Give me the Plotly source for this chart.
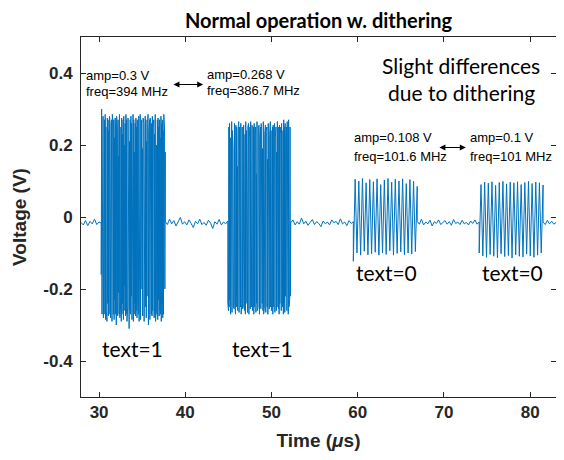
import numpy as np
import plotly.graph_objects as go

# ---------------- data ----------------
# segment boundaries in microseconds: baseline / burst alternating
seg_bounds = [27.9, 30.25, 37.67, 44.93, 52.23, 59.49, 66.9, 74.09, 81.5, 83.0]

# baseline noise (V)
base0 = [-0.015, -0.022, -0.010, -0.024, -0.012, -0.019, -0.006, -0.021, -0.014, -0.017]
base1 = [-0.012, -0.021, -0.006, -0.019, -0.010, -0.025, -0.014, -0.001, -0.020, -0.013,
         -0.022, -0.008, -0.018, -0.029, -0.012, -0.019, -0.006, -0.021, -0.015, -0.023,
         -0.009, -0.017, -0.032, -0.013, -0.020, -0.007, -0.022, -0.014, -0.019, -0.011]
base2 = [-0.016, -0.008, -0.022, -0.013, -0.020, -0.003, -0.019, -0.012, -0.023, -0.015,
         -0.007, -0.021, -0.013, -0.018, -0.027, -0.011, -0.019, -0.014, -0.022, -0.008,
         -0.016, -0.012, -0.021, -0.005, -0.019, -0.014, -0.024, -0.010, -0.018, -0.013]
base3 = [-0.012, -0.020, -0.006, -0.022, -0.014, -0.019, -0.009, -0.025, -0.013, -0.018,
         -0.008, -0.021, -0.015, -0.010, -0.020, -0.013, -0.023, -0.007, -0.018, -0.014,
         -0.021, -0.009, -0.019, -0.015, -0.022, -0.011, -0.018, -0.008, -0.020, -0.014]
base4 = [-0.014, -0.021, -0.009, -0.019, -0.012, -0.020, -0.015]

# 394 MHz burst (text=1)
b1_peaks = [0.30, 0.26, 0.28, 0.23, 0.27, 0.285, 0.25, 0.21, 0.275, 0.27,
            0.24, 0.28, 0.26, 0.19, 0.27, 0.285, 0.25, 0.27, 0.22, 0.275,
            0.26, 0.28, 0.24, 0.27, 0.17, 0.285, 0.26, 0.25, 0.275, 0.23,
            0.27, 0.28, 0.20, 0.26, 0.285, 0.27, 0.24, 0.275, 0.25, 0.21,
            0.27, 0.28, 0.26, 0.23, 0.285, 0.27, 0.18, 0.26, 0.275, 0.25,
            0.27, 0.22, 0.28, 0.26, 0.285, 0.24, 0.27, 0.19, 0.275, 0.26,
            0.25, 0.28, 0.27, 0.21, 0.26, 0.285, 0.24, 0.27, 0.275, 0.16,
            0.26, 0.28, 0.25, 0.27, 0.23, 0.285, 0.26, 0.20, 0.27, 0.275,
            0.25, 0.27, 0.22, 0.28, 0.26, 0.27, 0.24, 0.285, 0.25, 0.18]
b1_troughs = [-0.16, -0.27, -0.25, -0.28, -0.22, -0.27, -0.285, -0.26, -0.29, -0.24,
              -0.275, -0.27, -0.20, -0.28, -0.26, -0.29, -0.25, -0.27, -0.285, -0.23,
              -0.27, -0.30, -0.26, -0.275, -0.21, -0.27, -0.28, -0.25, -0.29, -0.27,
              -0.24, -0.285, -0.26, -0.19, -0.275, -0.27, -0.29, -0.25, -0.28, -0.31,
              -0.26, -0.27, -0.22, -0.285, -0.26, -0.29, -0.27, -0.24, -0.275, -0.26,
              -0.28, -0.23, -0.27, -0.29, -0.25, -0.285, -0.27, -0.20, -0.275, -0.26,
              -0.29, -0.27, -0.25, -0.28, -0.22, -0.27, -0.30, -0.26, -0.285, -0.24,
              -0.27, -0.275, -0.26, -0.21, -0.28, -0.27, -0.29, -0.25, -0.27, -0.285,
              -0.23, -0.275, -0.26, -0.27, -0.29, -0.24, -0.28, -0.27, -0.26, -0.20]
# 386.7 MHz burst (text=1)
b2_peaks = [0.23, 0.25, 0.26, 0.22, 0.25, 0.265, 0.24, 0.19, 0.25, 0.26,
            0.23, 0.255, 0.25, 0.14, 0.24, 0.265, 0.25, 0.22, 0.26, 0.24,
            0.25, 0.20, 0.255, 0.25, 0.23, 0.265, 0.24, 0.17, 0.25, 0.26,
            0.22, 0.25, 0.265, 0.24, 0.255, 0.21, 0.25, 0.26, 0.23, 0.25,
            0.12, 0.265, 0.24, 0.25, 0.255, 0.22, 0.25, 0.26, 0.24, 0.19,
            0.265, 0.25, 0.23, 0.255, 0.24, 0.25, 0.16, 0.26, 0.25, 0.23,
            0.265, 0.24, 0.21, 0.25, 0.255, 0.24, 0.26, 0.22, 0.25, 0.18,
            0.265, 0.24, 0.25, 0.255, 0.23, 0.25, 0.26, 0.20, 0.24, 0.27,
            0.25, 0.26, 0.22, 0.25, 0.265, 0.24, 0.27, 0.23, 0.25, 0.20]
b2_troughs = [-0.24, -0.26, -0.23, -0.25, -0.27, -0.24, -0.265, -0.21, -0.25, -0.255,
              -0.24, -0.27, -0.25, -0.22, -0.26, -0.24, -0.265, -0.18, -0.25, -0.27,
              -0.24, -0.255, -0.25, -0.23, -0.26, -0.27, -0.24, -0.20, -0.265, -0.25,
              -0.27, -0.24, -0.255, -0.22, -0.25, -0.26, -0.24, -0.27, -0.25, -0.19,
              -0.265, -0.24, -0.26, -0.25, -0.23, -0.27, -0.25, -0.255, -0.21, -0.24,
              -0.26, -0.27, -0.25, -0.24, -0.265, -0.22, -0.25, -0.27, -0.24, -0.255,
              -0.17, -0.25, -0.26, -0.24, -0.27, -0.25, -0.23, -0.265, -0.24, -0.26,
              -0.25, -0.20, -0.255, -0.27, -0.24, -0.25, -0.26, -0.23, -0.25, -0.27,
              -0.24, -0.265, -0.22, -0.25, -0.26, -0.24, -0.27, -0.25, -0.23, -0.22]
# 101.6 MHz burst (text=0)
b3_peaks = [0.105, 0.100, 0.107, 0.095, 0.104, 0.098, 0.106, 0.090, 0.103, 0.107, 0.097, 0.105,
            0.100, 0.106, 0.093, 0.104, 0.099, 0.085]
b3_troughs = [-0.123, -0.100, -0.106, -0.095, -0.105, -0.102, -0.098, -0.106, -0.100, -0.104, -0.094,
              -0.106, -0.101, -0.097, -0.105, -0.100, -0.103, -0.096]
# 101 MHz burst (text=0)
b4_peaks = [0.090, 0.097, 0.094, 0.098, 0.088, 0.096, 0.099, 0.092, 0.097, 0.095, 0.098, 0.090,
            0.096, 0.099, 0.093, 0.097, 0.095, 0.089]
b4_troughs = [-0.100, -0.108, -0.112, -0.104, -0.109, -0.113, -0.102, -0.110, -0.107, -0.114, -0.105,
              -0.109, -0.111, -0.103, -0.108, -0.112, -0.106, -0.100]

x_ticks = [30, 40, 50, 60, 70, 80]
y_ticks = [-0.4, -0.2, 0, 0.2, 0.4]
y_tick_text = ["-0.4", "-0.2", "0", "0.2", "0.4"]


# ---------------- build the trace ----------------
def interleave(lows, highs):
    out = []
    for lo, hi in zip(lows, highs):
        out.extend([lo, hi])
    return out


segments = [
    base0,
    interleave(b1_troughs, b1_peaks),
    base1,
    interleave(b2_troughs, b2_peaks),
    base2,
    interleave(b3_troughs, b3_peaks),
    base3,
    interleave(b4_troughs, b4_peaks),
    base4,
]
t_all, v_all = [], []
for i, vals in enumerate(segments):
    t0, t1 = seg_bounds[i], seg_bounds[i + 1]
    t_all.extend(np.linspace(t0, t1, len(vals)).tolist())
    v_all.extend(vals)

fig = go.Figure()
fig.add_trace(go.Scatter(x=t_all, y=v_all, mode="lines",
                         line=dict(color="#0072BD", width=1), showlegend=False,
                         hoverinfo="skip"))

axis_color = "#262626"
tick_font = dict(family="Liberation Sans, Arial, sans-serif", size=17, color=axis_color, weight="bold")

fig.update_xaxes(range=[27.9, 83.0], tickvals=x_ticks, ticks="inside", ticklen=5,
                 tickcolor=axis_color, showline=True, linecolor=axis_color, linewidth=1,
                 mirror="ticks", showgrid=False, zeroline=False, tickfont=tick_font,
                 automargin=False,
                 title=dict(text="Time (<i>μ</i>s)", standoff=12,
                            font=dict(family="Liberation Sans, Arial", size=19,
                                      color=axis_color, weight="bold")))
fig.update_yaxes(range=[-0.5, 0.5], tickvals=y_ticks, ticktext=y_tick_text, ticks="inside",
                 ticklen=5, tickcolor=axis_color, showline=True, linecolor=axis_color, linewidth=1,
                 mirror="ticks", showgrid=False, zeroline=False, tickfont=tick_font,
                 ticklabelstandoff=4, automargin=False,
                 title=dict(text="Voltage (V)", standoff=11,
                            font=dict(family="Liberation Sans, Arial", size=19,
                                      color=axis_color, weight="bold")))

small = dict(family="Liberation Sans, Arial, sans-serif", size=13, color="#000000")
cal = dict(family="Lato, Carlito, Calibri, sans-serif", size=21, color="#000000")

ann = []


def txt(x, y, s, font, xanchor="left"):
    ann.append(dict(x=x, y=y, xref="x", yref="y", text=s, showarrow=False,
                    xanchor=xanchor, yanchor="middle", font=font))


txt(28.2, 0.392, "amp=0.3 V", small)
txt(28.2, 0.348, "freq=394 MHz", small)
txt(42.25, 0.395, "amp=0.268 V", small)
txt(42.25, 0.351, "freq=386.7 MHz", small)
txt(59.3, 0.222, "amp=0.108 V", small)
txt(59.3, 0.167, "freq=101.6 MHz", small)
txt(72.75, 0.222, "amp=0.1 V", small)
txt(72.75, 0.167, "freq=101 MHz", small)
txt(72.0, 0.42, "Slight differences", cal, "center")
txt(72.0, 0.345, "due to dithering", cal, "center")
txt(33.86, -0.366, "text=1", cal, "center")
txt(48.91, -0.366, "text=1", cal, "center")
txt(63.39, -0.155, "text=0", cal, "center")
txt(77.99, -0.155, "text=0", cal, "center")

for (xa, xb, y) in [(38.45, 42.07, 0.368), (69.3, 72.54, 0.193)]:
    ann.append(dict(x=xb, y=y, ax=xa, ay=y, xref="x", yref="y", axref="x", ayref="y",
                    text="", showarrow=True, arrowhead=2, startarrowhead=2,
                    arrowside="end+start", arrowsize=1, arrowwidth=1.2, arrowcolor="#000000"))

# the page body adds an 8 px offset, so the figure is 8 px smaller than the window
fig.update_layout(
    width=556, height=452,
    margin=dict(l=73, r=8, t=29, b=63),
    paper_bgcolor="white", plot_bgcolor="white",
    title=dict(text="Normal operation w. dithering", x=0.5, xref="paper", xanchor="center",
               y=0.971, yanchor="middle",
               font=dict(family="Lato, Carlito, sans-serif", size=20, color="#000000",
                         weight="bold")),
    annotations=ann,
)

fig.write_html("out.html")
